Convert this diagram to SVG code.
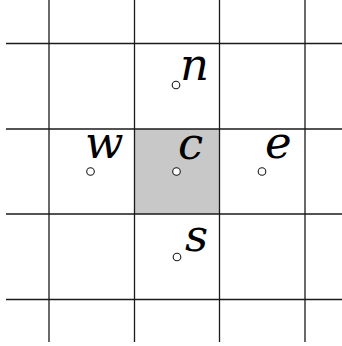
<svg xmlns="http://www.w3.org/2000/svg" width="342" height="346" viewBox="0 0 342 346">
<style>
.grid line{stroke:#1a1a1a;stroke-width:1.3}
.pt{fill:#fff;stroke:#1a1a1a;stroke-width:1.1}
.lbl{font-family:'DejaVu Serif',serif;font-style:italic;font-size:45px;fill:#000}
</style>
<rect x="134.5" y="129" width="85" height="85" fill="#c8c8c8"/>
<g class="grid">
<line x1="49" y1="0" x2="49" y2="342"/>
<line x1="134.5" y1="0" x2="134.5" y2="342"/>
<line x1="219.5" y1="0" x2="219.5" y2="342"/>
<line x1="305" y1="0" x2="305" y2="342"/>
<line x1="6" y1="43.5" x2="342" y2="43.5"/>
<line x1="6" y1="129" x2="342" y2="129"/>
<line x1="6" y1="214" x2="342" y2="214"/>
<line x1="6" y1="299.5" x2="342" y2="299.5"/>
</g>
<g id="n"><circle class="pt" cx="176" cy="85" r="3.8"/><text class="lbl" x="180" y="80">n</text></g>
<g id="w"><circle class="pt" cx="90.5" cy="171.5" r="3.8"/><text class="lbl" x="85" y="158">w</text></g>
<g id="c"><circle class="pt" cx="176.5" cy="171.5" r="3.8"/><text class="lbl" x="178" y="159">c</text></g>
<g id="e"><circle class="pt" cx="262" cy="171.5" r="3.8"/><text class="lbl" x="265" y="158">e</text></g>
<g id="s"><circle class="pt" cx="177" cy="257" r="3.8"/><text class="lbl" x="185" y="251">s</text></g>
</svg>
